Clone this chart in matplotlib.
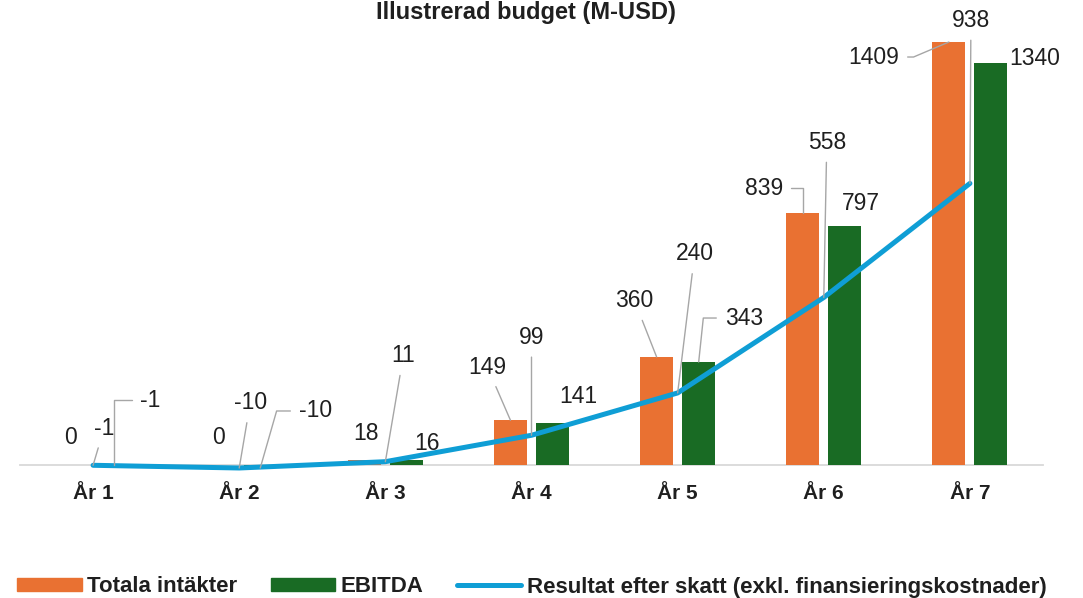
import numpy as np
import matplotlib
matplotlib.use("Agg")
import matplotlib.pyplot as plt
from matplotlib.patches import Patch
from matplotlib.lines import Line2D

plt.rcParams['font.family'] = ['Liberation Sans', 'DejaVu Sans']

# data (M-USD)
years = ['År 1', 'År 2', 'År 3', 'År 4', 'År 5', 'År 6', 'År 7']
intakter = [0, 0, 18, 149, 360, 839, 1409]
ebitda = [-1, -10, 16, 141, 343, 797, 1340]
resultat = [-1, -10, 11, 99, 240, 558, 938]

c_orange = '#E97132'
c_green = '#196B24'
c_blue = '#0F9ED5'
c_lead = '#A6A6A6'
c_text = '#1F1F1F'

# label offsets in pixels (dx, dy) and leader type: None, 'line' or angleB for elbow
off_int = [(-2, 27), (0, 27), (2, 26), (-23, 53), (-22, 56), (-39, 25), (-75, -15)]
lead_int = [None, None, None, 'line', 'line', 90, 23]
off_ebi = [(36, 65), (55, 57), (21, 17), (26, 26), (45, 44), (16, 22), (44, 4)]
lead_ebi = [90, 74, None, None, 84, None, None]
off_res = [(11, 37), (11, 65), (18, 106), (0, 98), (17, 139), (3, 155), (1, 163)]

fig = plt.figure(figsize=(10.83, 5.98), dpi=100)
ax = fig.add_axes([20/1083, 1-483/598, 1023/1083, (483-14.7)/598])

x = np.arange(len(years))
w = 0.226
d = 0.144
ax.bar(x - d, intakter, w, color=c_orange, zorder=2)
ax.bar(x + d, ebitda, w, color=c_green, zorder=2)
ax.plot(x, resultat, color=c_blue, lw=3.6, solid_capstyle='round', zorder=3)

ax.set_xlim(-0.5, 6.5)
ax.set_ylim(-60, 1500)
for s in ['top', 'right', 'left']:
    ax.spines[s].set_visible(False)
ax.spines['bottom'].set_position(('data', 0))
ax.spines['bottom'].set_color('#D9D9D9')
ax.spines['bottom'].set_linewidth(1.3)
ax.spines['bottom'].set_zorder(1)
ax.set_yticks([])
ax.set_xticks(x)
ax.set_xticklabels(years, fontsize=15, fontweight='bold', color=c_text)
ax.tick_params(axis='x', length=0, pad=14)


def label(val, xp, off, lead):
    ap = None
    if lead == 'line':
        ap = dict(arrowstyle='-', color=c_lead, lw=1.0, shrinkA=4, shrinkB=0)
    elif lead is not None:
        rp = (0, 0.5) if off[0] > 0 else (1, 0.5)
        ap = dict(arrowstyle='-', color=c_lead, lw=1.0, shrinkA=4, shrinkB=0,
                  relpos=rp, connectionstyle='angle,angleA=0,angleB=%d,rad=0' % lead)
    ax.annotate(str(val), xy=(xp, val), xytext=off, textcoords='offset pixels',
                ha='center', va='center', fontsize=16.5, color=c_text,
                arrowprops=ap, zorder=4)


for i in range(len(years)):
    label(intakter[i], x[i] - d, off_int[i], lead_int[i])
    label(ebitda[i], x[i] + d, off_ebi[i], lead_ebi[i])
    label(resultat[i], x[i], off_res[i], 'line')

fig.text(526/1083, 1-19/598, 'Illustrerad budget (M-USD)', ha='center', va='baseline',
         fontsize=17, fontweight='bold', color=c_text)

handles = [Patch(color=c_orange), Patch(color=c_green),
           Line2D([], [], color=c_blue, lw=3.6, solid_capstyle='round')]
fig.legend(handles, ['Totala intäkter', 'EBITDA', 'Resultat efter skatt (exkl. finansieringskostnader)'],
           loc='center', bbox_to_anchor=(532/1083, 1-587/598), ncol=3, frameon=False,
           prop=dict(size=16, weight='bold'), handlelength=2.9, handleheight=0.55,
           handletextpad=0.25, columnspacing=1.5, labelcolor=c_text)

fig.savefig('out.png', dpi=100)
